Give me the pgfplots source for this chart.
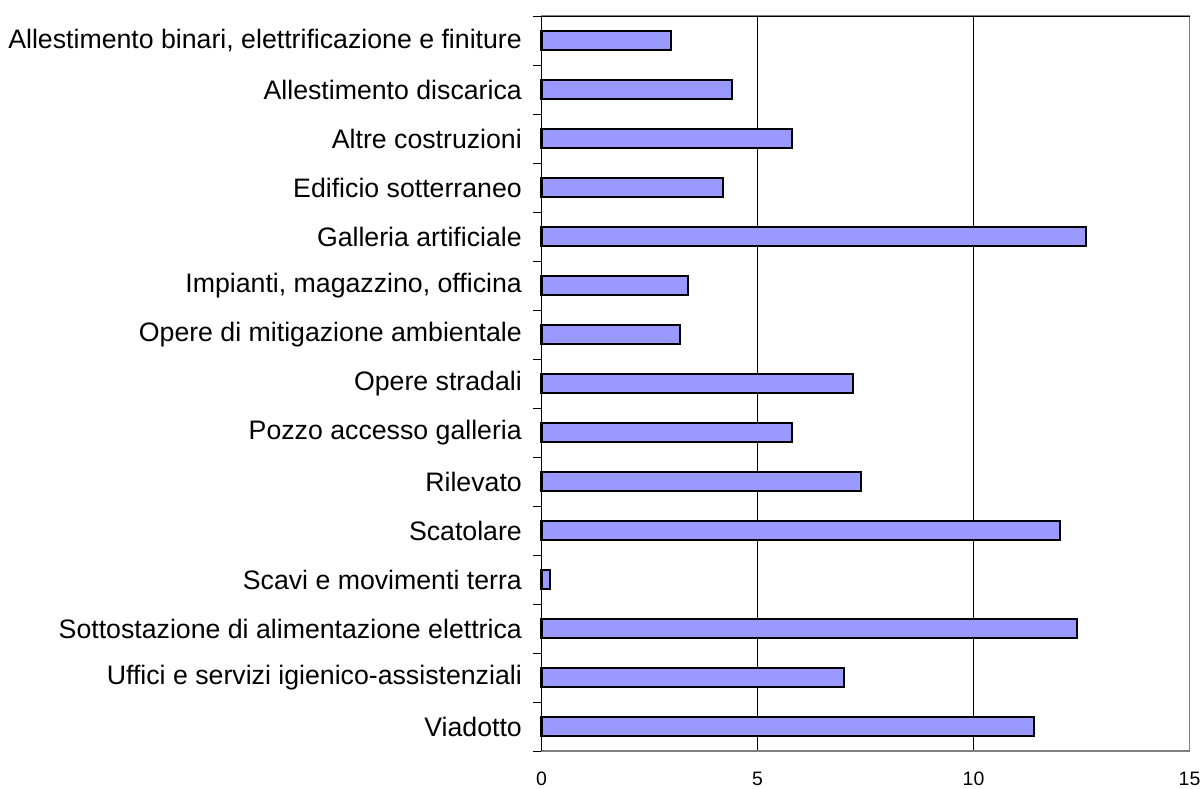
\documentclass[border=0pt]{standalone}
\usepackage{fontspec}
\setmainfont{Liberation Sans}
\usepackage{pgfplots}
\pgfplotsset{compat=1.18}
\definecolor{barfill}{RGB}{153,153,255}
\definecolor{framegray}{RGB}{128,128,128}
\begin{document}
\begin{tikzpicture}
\path[use as bounding box] (0,0) rectangle (1204bp,789bp);
\begin{axis}[
  at={(541.5bp,38bp)}, anchor=south west,
  scale only axis, width=648bp, height=735bp,
  xbar, bar width=18.5bp,
  xmin=0, xmax=15, ymin=-0.5, ymax=14.5,
  y dir=reverse,
  xtick={0,5,10,15},
  ytick={0,...,14},
  yticklabels={{Allestimento binari, elettrificazione e finiture},{Allestimento discarica},{Altre costruzioni},{Edificio sotterraneo},{Galleria artificiale},{Impianti, magazzino, officina},{Opere di mitigazione ambientale},{Opere stradali},{Pozzo accesso galleria},{Rilevato},{Scatolare},{Scavi e movimenti terra},{Sottostazione di alimentazione elettrica},{Uffici e servizi igienico-assistenziali},{Viadotto}},
  minor ytick={-0.5,0.5,...,14.5},
  ytick pos=left, xtick pos=bottom,
  major tick length=0pt,
  minor tick length=8bp,
  tick align=outside,
  tick style={black, line width=0.75bp},
  xmajorgrids, grid style={black, line width=0.75bp},
  axis line style={framegray, line width=1.5bp},
  yticklabel style={anchor=east, inner sep=0pt, xshift=-19.5bp, font=\fontsize{26.8}{30}\selectfont},
  xticklabel style={anchor=north, inner sep=0pt, yshift=-21bp, font=\fontsize{19.5}{22}\selectfont},
  /pgf/number format/assume math mode=true,
  clip=false,
]
\addplot[fill=barfill, draw=black, line width=2bp] coordinates {
(3.0,0) (4.4,1) (5.8,2) (4.2,3) (12.6,4) (3.4,5) (3.2,6) (7.2,7)
(5.8,8) (7.4,9) (12.0,10) (0.2,11) (12.4,12) (7.0,13) (11.4,14)
};
\draw[black, line width=1bp] (rel axis cs:0,0) -- (rel axis cs:0,1) -- (rel axis cs:1,1);
\end{axis}
\end{tikzpicture}
\end{document}
